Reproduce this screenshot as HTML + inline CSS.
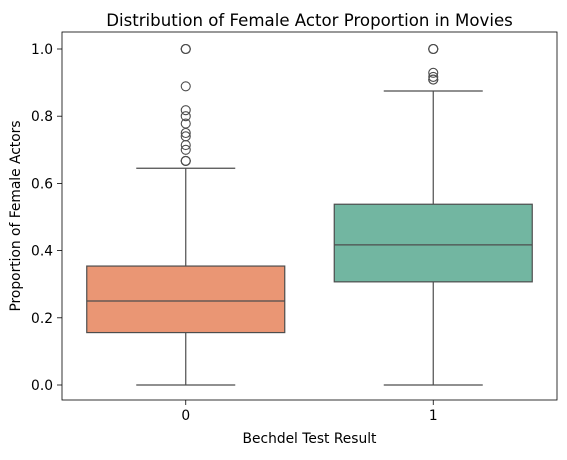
<!DOCTYPE html>
<html><head><meta charset="utf-8"><style>
body{margin:0;background:#fff;font-family:"Liberation Sans","DejaVu Sans",sans-serif}
text{font-family:"DejaVu Sans","Liberation Sans",sans-serif}
</style></head><body>
<svg id="c" width="567" height="455"></svg>
<script>
const categories=["0","1"];
const q1s=[0.156,0.307];
const medians=[0.25,0.417];
const q3s=[0.354,0.538];
const whiskLo=[0,0];
const whiskHi=[0.645,0.875];
const outliers0=[1.0,1.0,1.0,0.889,0.818,0.8,0.778,0.75,0.74,0.714,0.70,0.667,0.667,0.667];
const outliers1=[1.0,1.0,1.0,0.929,0.917,0.909,0.909];
const yTicks=[0,0.2,0.4,0.6,0.8,1.0];
const colors=["#ea9674","#72b6a1"];
const L=62,R=557,T=32,B=400;
const y=v=>385-v*336;
const x=i=>L+(i+0.5)*(R-L)/2;
const bw=0.8*(R-L)/2;
const s=document.getElementById('c');const NS="http://www.w3.org/2000/svg";
function add(t,a,txt){const e=document.createElementNS(NS,t);for(const k in a)e.setAttribute(k,a[k]);if(txt!==undefined)e.textContent=txt;s.appendChild(e);return e;}
let e;
e=add('rect',{x:L,y:T,width:R-L,height:B-T,fill:'none',stroke:'#000','stroke-width':0.8});


yTicks.forEach(v=>{
 e=add('line',{x1:L-5,x2:L,y1:y(v),y2:y(v),stroke:'#000','stroke-width':0.8});
 
 
 e=add('text',{x:L-9,y:y(v)+5,'text-anchor':'end','font-size':13.8},v.toFixed(1));
 
 
});
const outs=[outliers0,outliers1];
categories.forEach((c,i)=>{
 const cx=x(i),st='#4d4d4d';
 e=add('line',{x1:cx,x2:cx,y1:y(whiskLo[i]),y2:y(q1s[i]),stroke:st,'stroke-width':1.2});
 
 
 e=add('line',{x1:cx,x2:cx,y1:y(whiskHi[i]),y2:y(q3s[i]),stroke:st,'stroke-width':1.2});
 
 
 [whiskLo[i],whiskHi[i]].forEach(v=>{
  e=add('line',{x1:cx-bw/4,x2:cx+bw/4,y1:y(v),y2:y(v),stroke:st,'stroke-width':1.2});
  
  
 });
 e=add('rect',{x:cx-bw/2,y:y(q3s[i]),width:bw,height:y(q1s[i])-y(q3s[i]),fill:colors[i],stroke:st,'stroke-width':1.2});
 
 
 e=add('line',{x1:cx-bw/2,x2:cx+bw/2,y1:y(medians[i]),y2:y(medians[i]),stroke:st,'stroke-width':1.2});
 
 
 outs[i].forEach(v=>{
  e=add('circle',{cx:cx,cy:y(v),r:4.5,fill:'none',stroke:st,'stroke-width':1.1});
  
  
 });
 e=add('line',{x1:cx,x2:cx,y1:B,y2:B+5,stroke:'#000','stroke-width':0.8});
 
 
 e=add('text',{x:cx,y:B+20,'text-anchor':'middle','font-size':13.8},c);
 
 
});
e=add('text',{x:(L+R)/2,y:26,'text-anchor':'middle','font-size':16.6},'Distribution of Female Actor Proportion in Movies');


e=add('text',{x:(L+R)/2,y:443,'text-anchor':'middle','font-size':13.8},'Bechdel Test Result');


e=add('text',{x:0,y:0,'text-anchor':'middle','font-size':13.8,transform:'translate(20,216) rotate(-90)'},'Proportion of Female Actors');


</script>
</body></html>
